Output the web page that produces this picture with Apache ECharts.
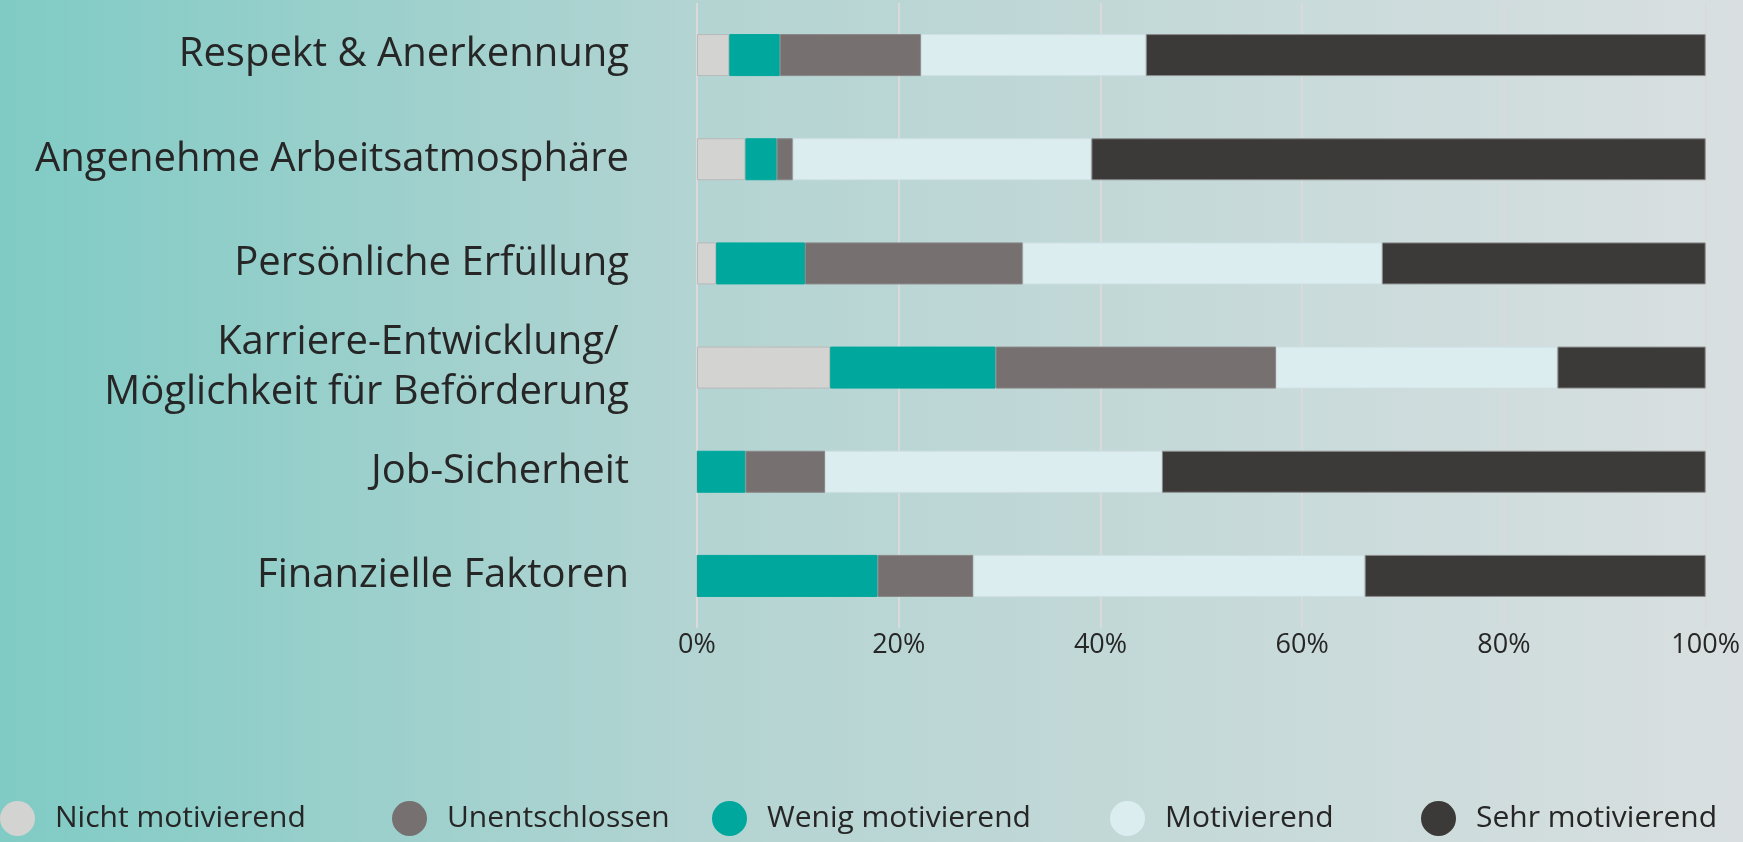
<!DOCTYPE html>
<html>
<head>
<meta charset="utf-8">
<script src="https://cdn.jsdelivr.net/npm/echarts@6/dist/echarts.min.js"></script>
<style>
html,body{margin:0;padding:0;width:1743px;height:842px;overflow:hidden;}
#chart{width:1743px;height:842px;}
</style>
</head>
<body>
<div id="chart"></div>
<script>
// ---- data ----
const categories = [
  'Respekt & Anerkennung',
  'Angenehme Arbeitsatmosphäre',
  'Persönliche Erfüllung',
  'Karriere-Entwicklung/ \nMöglichkeit für Beförderung',
  'Job-Sicherheit',
  'Finanzielle Faktoren'
];
const seriesNames = ['Nicht motivierend', 'Wenig motivierend', 'Unentschlossen', 'Motivierend', 'Sehr motivierend'];
const legendOrder = ['Nicht motivierend', 'Unentschlossen', 'Wenig motivierend', 'Motivierend', 'Sehr motivierend'];
const nichtMotivierend = [3.2, 4.8, 1.9, 13.2, 0, 0];
const wenigMotivierend = [5.0, 3.1, 8.8, 16.4, 4.8, 17.9];
const unentschlossen   = [14.0, 1.6, 21.6, 27.8, 7.9, 9.5];
const motivierend      = [22.3, 29.6, 35.6, 27.9, 33.4, 38.8];
const sehrMotivierend  = [55.5, 60.9, 32.1, 14.7, 53.9, 33.8];
const xTicks = [0, 20, 40, 60, 80, 100];

// ---- styles ----
const colors = {
  'Nicht motivierend': '#d3d3d2',
  'Wenig motivierend': '#00a79d',
  'Unentschlossen': '#767170',
  'Motivierend': '#dcedf0',
  'Sehr motivierend': '#3c3a39'
};
const borders = {
  'Nicht motivierend': '#b9b9b9',
  'Wenig motivierend': '#00a79d',
  'Unentschlossen': '#8a8686',
  'Motivierend': '#cfe0e3',
  'Sehr motivierend': '#8a8a8a'
};
const values = {
  'Nicht motivierend': nichtMotivierend,
  'Wenig motivierend': wenigMotivierend,
  'Unentschlossen': unentschlossen,
  'Motivierend': motivierend,
  'Sehr motivierend': sehrMotivierend
};
const legendLefts = [0, 392, 712, 1110, 1421];
const FONT = '"Open Sans", "Noto Sans", sans-serif';

const chart = echarts.init(document.getElementById('chart'), null, {renderer: 'canvas'});
const option = {
  backgroundColor: {
    type: 'linear', x: 0, y: 0, x2: 1, y2: 0,
    colorStops: [
      {offset: 0, color: '#80cbc5'},
      {offset: 0.4, color: '#b3d4d2'},
      {offset: 1, color: '#d9dfe0'}
    ]
  },
  animation: false,
  textStyle: {fontFamily: FONT},
  grid: {left: 697, right: 37, top: 3, height: 625, containLabel: false},
  xAxis: {
    type: 'value', min: 0, max: 100, interval: 20,
    axisLine: {show: false},
    axisTick: {show: false},
    splitLine: {show: true, lineStyle: {color: '#dadada', width: 2}},
    axisLabel: {
      formatter: v => xTicks.includes(v) ? v + '%' : '',
      color: '#262626', fontSize: 27, fontFamily: FONT, margin: 4
    }
  },
  yAxis: {
    type: 'category', data: categories, inverse: true,
    axisLine: {show: false},
    axisTick: {show: false},
    splitLine: {show: false},
    axisLabel: {
      color: '#262626', fontSize: 40, fontFamily: FONT, margin: 68,
      lineHeight: 50, align: 'right'
    }
  },
  legend: legendOrder.map((name, i) => ({
    data: [name],
    left: legendLefts[i],
    top: 801,
    padding: 0,
    icon: 'circle',
    itemWidth: 35,
    itemHeight: 35,
    itemStyle: {borderWidth: 0},
    textStyle: {color: '#262626', fontSize: 30, fontFamily: FONT, padding: [0, 0, 0, 15]}
  })),
  series: seriesNames.map(name => ({
    name: name,
    type: 'bar',
    stack: 'total',
    barWidth: 42,
    data: values[name],
    itemStyle: {color: colors[name], borderColor: borders[name], borderWidth: 1}
  }))
};
chart.setOption(option);
</script>
</body>
</html>
